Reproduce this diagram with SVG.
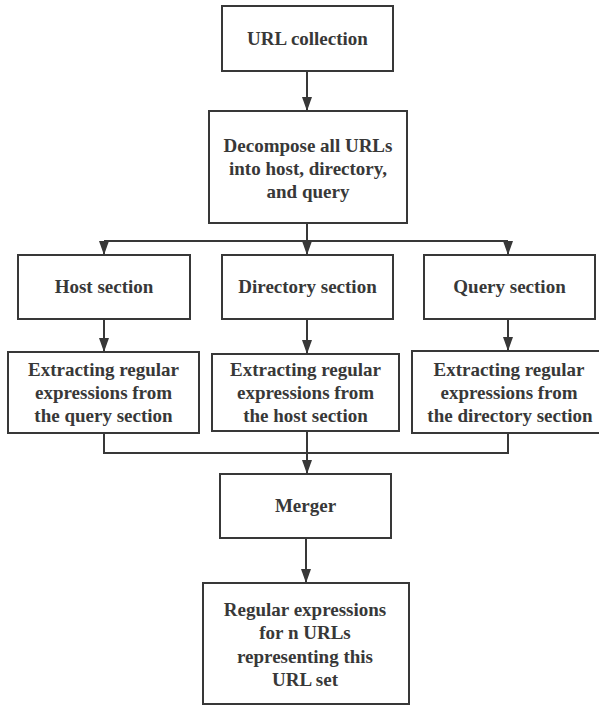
<svg xmlns="http://www.w3.org/2000/svg" width="599" height="706" viewBox="0 0 599 706">
<style>
.box{fill:#fff;stroke:#383838;stroke-width:2}
.t{font-family:'Liberation Serif','Times New Roman',serif;font-weight:700;font-size:19px;fill:#383838;text-anchor:middle}
.c{fill:none;stroke:#383838;stroke-width:2}
</style>
<defs>
<marker id="a" markerWidth="14" markerHeight="10" refX="13" refY="5" orient="auto" markerUnits="userSpaceOnUse">
<path d="M0,0 L14,5 L0,10 Z" fill="#383838"/>
</marker>
</defs>
<rect width="599" height="706" fill="#fff"/>
<g id="connectors">
<path class="c" d="M307,71 V110" marker-end="url(#a)"/>
<path class="c" d="M307,223 V254" marker-end="url(#a)"/>
<path class="c" d="M104,241 H508"/>
<path class="c" d="M104,241 V254" marker-end="url(#a)"/>
<path class="c" d="M508,241 V254" marker-end="url(#a)"/>
<path class="c" d="M104,319 V351" marker-end="url(#a)"/>
<path class="c" d="M307,319 V353" marker-end="url(#a)"/>
<path class="c" d="M508,319 V350" marker-end="url(#a)"/>
<path class="c" d="M104,433 V453 H508 V433"/>
<path class="c" d="M307,431 V473" marker-end="url(#a)"/>
<path class="c" d="M306,538 V582" marker-end="url(#a)"/>
</g>
<g id="n1"><rect class="box" x="222" y="6" width="171" height="65"/><text class="t" x="307.5" y="45">URL collection</text></g>
<g id="n2"><rect class="box" x="209" y="111" width="198" height="112"/><text class="t" x="308" y="152">Decompose all URLs</text><text class="t" x="308" y="175">into host, directory,</text><text class="t" x="308" y="198">and query</text></g>
<g id="n3"><rect class="box" x="18" y="255" width="172" height="64"/><text class="t" x="104" y="293">Host section</text></g>
<g id="n4"><rect class="box" x="222" y="255" width="171" height="64"/><text class="t" x="307.5" y="293">Directory section</text></g>
<g id="n5"><rect class="box" x="424" y="255" width="171" height="64"/><text class="t" x="509.5" y="293">Query section</text></g>
<g id="n6"><rect class="box" x="8" y="352" width="191" height="81"/><text class="t" x="103.5" y="376">Extracting regular</text><text class="t" x="103.5" y="399">expressions from</text><text class="t" x="103.5" y="422">the query section</text></g>
<g id="n7"><rect class="box" x="212" y="354" width="187" height="77"/><text class="t" x="305.5" y="376">Extracting regular</text><text class="t" x="305.5" y="399">expressions from</text><text class="t" x="305.5" y="422">the host section</text></g>
<g id="n8"><rect class="box" x="412" y="351" width="192" height="82"/><text class="t" x="509" y="376">Extracting regular</text><text class="t" x="509" y="399">expressions from</text><text class="t" x="510" y="422">the directory section</text></g>
<g id="n9"><rect class="box" x="220" y="474" width="171" height="64"/><text class="t" x="305.5" y="512">Merger</text></g>
<g id="n10"><rect class="box" x="203" y="583" width="206" height="121"/><text class="t" x="305" y="616">Regular expressions</text><text class="t" x="305" y="639">for n URLs</text><text class="t" x="305" y="663">representing this</text><text class="t" x="305" y="686">URL set</text></g>
</svg>
